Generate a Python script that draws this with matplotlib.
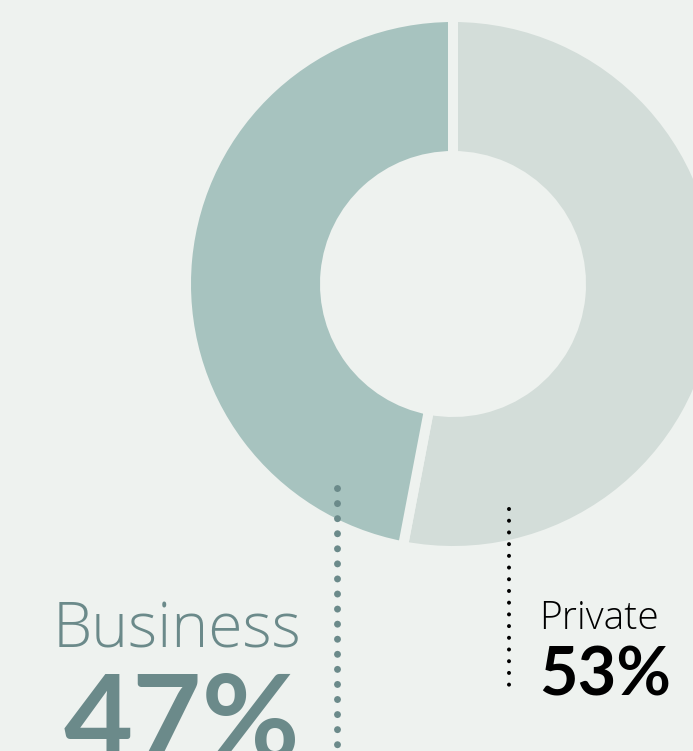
import numpy as np
import matplotlib
matplotlib.use("Agg")
from matplotlib import pyplot as plt

# data
labels = ["Private", "Business"]
shares = [53, 47]
colors = ["#d3ddd9", "#a7c3bf"]
text_colors = ["#000000", "#6b8a8a"]

W, H = 693, 751
BG = "#eef2ef"

def main():
    fig = plt.figure(figsize=(W / 100, H / 100), dpi=100, facecolor=BG)
    ax = fig.add_axes([0, 0, 1, 1])
    ax.set_facecolor(BG)

    cx, cy = 453, H - 284
    ax.pie(shares, colors=colors, startangle=90, counterclock=False,
           center=(cx, cy), radius=267,
           wedgeprops=dict(width=139, edgecolor=BG, linewidth=7.2))

    # dotted leaders
    ax.plot([337, 337], [H - 488, -10], color=text_colors[1], lw=5.0,
            linestyle=(0, (0.01, 10.8 / 5.0)), dash_capstyle="round", zorder=3)
    ax.plot([509, 509], [H - 509, H - 692], color=text_colors[0], lw=2.9,
            linestyle=(0, (0.01, 8.4 / 2.9)), dash_capstyle="round", zorder=3)

    # labels
    ax.text(301, H - 647, labels[1], ha="right", va="baseline", fontsize=45,
            family="Open Sans", weight="light", color=text_colors[1])
    ax.text(300, H - 760, "%d%%" % shares[1], ha="right", va="baseline",
            fontsize=86, family="Lato", weight="bold", color=text_colors[1])
    ax.text(539, H - 629, labels[0], ha="left", va="baseline", fontsize=28,
            family="Open Sans", weight="light", color=text_colors[0])
    ax.text(539, H - 695, "%d%%" % shares[0], ha="left", va="baseline",
            fontsize=48, family="Lato", weight="bold", color=text_colors[0])

    ax.set_xlim(0, W)
    ax.set_ylim(0, H)
    ax.set_aspect("auto")
    ax.axis("off")
    fig.savefig("out.png", dpi=100, facecolor=BG)

if __name__ == "__main__":
    main()
